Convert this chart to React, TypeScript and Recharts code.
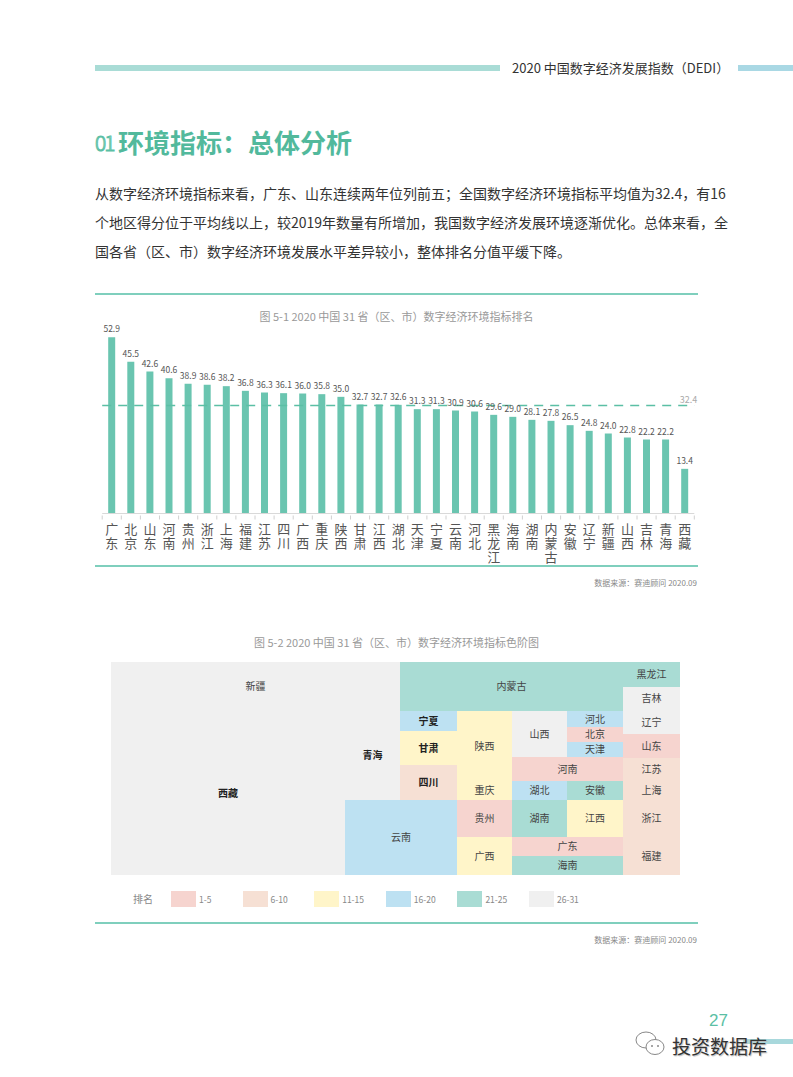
import { BarChart, Bar, XAxis, YAxis, ReferenceLine, LabelList, ComposedChart, ReferenceArea } from 'recharts'

// 各省（区、市）按 2020 数字经济环境指标排名
const provinces = ['广东', '北京', '山东', '河南', '贵州', '浙江', '上海', '福建', '江苏', '四川', '广西', '重庆', '陕西', '甘肃', '江西', '湖北', '天津', '宁夏', '云南', '河北', '黑龙江', '海南', '湖南', '内蒙古', '安徽', '辽宁', '新疆', '山西', '吉林', '青海', '西藏']
const scores = [52.9, 45.5, 42.6, 40.6, 38.9, 38.6, 38.2, 36.8, 36.3, 36.1, 36.0, 35.8, 35.0, 32.7, 32.7, 32.6, 31.3, 31.3, 30.9, 30.6, 29.6, 29.0, 28.1, 27.8, 26.5, 24.8, 24.0, 22.8, 22.2, 22.2, 13.4]
const average = 32.4

const rankLabels = ['1-5', '6-10', '11-15', '16-20', '21-25', '26-31']
const rankColors = ['#f6d4cf', '#f6e0d4', '#fff5c9', '#bde1f2', '#a9dcd4', '#f0f0f0']

// 色阶图方格布局（网格单位）：[名称, x1, x2, y1, y2]
const tiles: [string, number, number, number, number][] = [
  ['新疆', 0, 289, 0, 49],
  ['西藏', 0, 234, 49, 213],
  ['青海', 234, 289, 49, 138],
  ['内蒙古', 289, 512, 0, 49],
  ['黑龙江', 512, 569, 0, 25],
  ['吉林', 512, 569, 25, 48],
  ['辽宁', 512, 569, 48, 72],
  ['山东', 512, 569, 72, 96],
  ['江苏', 512, 569, 96, 119],
  ['上海', 512, 569, 119, 138],
  ['浙江', 512, 569, 138, 175],
  ['福建', 512, 569, 175, 213],
  ['宁夏', 289, 346, 49, 69],
  ['甘肃', 289, 346, 69, 103],
  ['四川', 289, 346, 103, 138],
  ['云南', 234, 346, 138, 213],
  ['陕西', 346, 401, 49, 119],
  ['重庆', 346, 401, 119, 138],
  ['贵州', 346, 401, 138, 175],
  ['广西', 346, 401, 175, 213],
  ['山西', 401, 456, 49, 95],
  ['河北', 456, 512, 49, 65],
  ['北京', 456, 512, 65, 80],
  ['天津', 456, 512, 80, 95],
  ['河南', 401, 512, 95, 119],
  ['湖北', 401, 456, 119, 138],
  ['安徽', 456, 512, 119, 138],
  ['湖南', 401, 456, 138, 175],
  ['江西', 456, 512, 138, 175],
  ['广东', 401, 512, 175, 194],
  ['海南', 401, 512, 194, 213],
]
const boldTiles = ['宁夏', '甘肃', '四川', '青海', '西藏']

const FONT = '"Noto Sans CJK SC", "Noto Sans", sans-serif'
const TEAL = '#6ac5b0'

const barData = provinces.map((name, i) => ({ name, value: scores[i] }))

const rankColor = (name: string) => {
  const rank = provinces.indexOf(name)
  return rankColors[Math.min(5, Math.floor(rank / 5))]
}

// 竖排省名
const VerticalTick = (props: any) => {
  const { x, y, payload, index } = props
  const half = 9.55
  return (
    <g>
      <line x1={x - half} x2={x - half} y1={y - 6} y2={y - 2} stroke="#d0d0d0" />
      {index === provinces.length - 1 && <line x1={x + half} x2={x + half} y1={y - 6} y2={y - 2} stroke="#d0d0d0" />}
      <text x={x} y={y + 1} fontSize={13} fill="#555" fontFamily={FONT} letterSpacing={1} style={{ writingMode: 'vertical-rl' }}>
        {payload.value}
      </text>
    </g>
  )
}

const abs = (left: number, top: number, extra: any = {}) => ({ position: 'absolute' as const, left, top, ...extra })

export default function App() {
  return (
    <div style={{ position: 'absolute', left: 0, top: 0, width: 793, height: 1077, background: '#fff', fontFamily: FONT, overflow: 'hidden' }}>
      {/* header */}
      <div style={abs(95, 65, { width: 405, height: 6, background: '#a9dcd6' })} />
      <div style={abs(512, 59, { fontSize: 13, color: '#333', whiteSpace: 'nowrap', lineHeight: '18px' })}>2020 中国数字经济发展指数（DEDI）</div>
      <div style={abs(738, 65, { width: 55, height: 6, background: '#a9d8e4' })} />

      {/* title */}
      <div style={abs(95, 127, { fontSize: 21, fontWeight: 300, color: '#fff', WebkitTextStroke: '1px #5bbfa5', lineHeight: '30px', letterSpacing: -2 })}>01</div>
      <div style={abs(118, 124, { fontSize: 26, fontWeight: 700, color: '#52b99c', lineHeight: '36px', whiteSpace: 'nowrap' })}>环境指标：总体分析</div>

      {/* paragraph */}
      {[
        '从数字经济环境指标来看，广东、山东连续两年位列前五；全国数字经济环境指标平均值为32.4，有16',
        '个地区得分位于平均线以上，较2019年数量有所增加，我国数字经济发展环境逐渐优化。总体来看，全',
        '国各省（区、市）数字经济环境发展水平差异较小，整体排名分值平缓下降。',
      ].map((t, i) => (
        <div key={i} style={abs(95, 183 + i * 29, { width: 602, fontSize: 14, color: '#333', lineHeight: '20px', whiteSpace: 'nowrap', textAlign: 'justify', textAlignLast: i < 2 ? 'justify' : 'left' })}>{t}</div>
      ))}

      {/* figure 5-1 */}
      <div style={abs(95, 293, { width: 603, height: 2, background: '#7fcfbd' })} />
      <div style={abs(95, 308, { width: 603, textAlign: 'center', fontSize: 11, color: '#999', lineHeight: '16px' })}>图 5-1 2020 中国 31 省（区、市）数字经济环境指标排名</div>
      <div style={abs(95, 296)}>
        <BarChart width={605} height={274} data={barData} margin={{ top: 17.5, right: 5.7, bottom: 0.5, left: 7.2 }}>
          <XAxis dataKey="name" interval={0} tickLine={false} axisLine={{ stroke: '#d9d9d9' }} tick={<VerticalTick />} height={56} />
          <YAxis hide domain={[0, 60]} />
          <ReferenceLine
            y={average}
            stroke="#5bbfa5"
            strokeWidth={1.5}
            strokeDasharray="9 7"
            label={{ value: average.toFixed(1), position: 'insideTopRight', fill: '#aaa', fontSize: 9, dy: -14, dx: 8 }}
          />
          <Bar dataKey="value" fill={TEAL} barSize={7} isAnimationActive={false}>
            <LabelList dataKey="value" position="top" offset={5} fontSize={8.5} fill="#555" formatter={(v: any) => Number(v).toFixed(1)} />
          </Bar>
        </BarChart>
      </div>
      <div style={abs(95, 565, { width: 603, height: 2, background: '#7fcfbd' })} />
      <div style={abs(95, 576, { width: 602, textAlign: 'right', fontSize: 8, color: '#888', lineHeight: '14px' })}>数据来源：赛迪顾问 2020.09</div>

      {/* figure 5-2 */}
      <div style={abs(95, 634, { width: 603, textAlign: 'center', fontSize: 11, color: '#999', lineHeight: '16px' })}>图 5-2 2020 中国 31 省（区、市）数字经济环境指标色阶图</div>
      <div style={abs(111, 662)}>
        <ComposedChart width={569} height={213} data={[]} margin={{ top: 0, right: 0, bottom: 0, left: 0 }}>
          <XAxis type="number" dataKey="x" domain={[0, 569]} hide allowDataOverflow />
          <YAxis type="number" dataKey="y" domain={[0, 213]} reversed hide allowDataOverflow />
          {tiles.map(([name, x1, x2, y1, y2]) => (
            <ReferenceArea
              key={name}
              x1={x1}
              x2={x2}
              y1={y1}
              y2={y2}
              fill={rankColor(name)}
              fillOpacity={1}
              stroke="none"
              ifOverflow="visible"
              label={{ value: name, position: 'center', fontSize: 10, fill: boldTiles.includes(name) ? '#222' : '#444', fontWeight: boldTiles.includes(name) ? 700 : 400 }}
            />
          ))}
        </ComposedChart>
      </div>

      {/* legend */}
      <div style={abs(133, 891, { fontSize: 10, color: '#888', lineHeight: '16px' })}>排名</div>
      {rankLabels.map((r, i) => (
        <div key={r}>
          <div style={abs(171 + i * 71.6, 891, { width: 25, height: 16, background: rankColors[i] })} />
          <div style={abs(199 + i * 71.6, 891, { fontSize: 8.5, color: '#888', lineHeight: '16px' })}>{r}</div>
        </div>
      ))}
      <div style={abs(95, 922, { width: 603, height: 2, background: '#7fcfbd' })} />
      <div style={abs(95, 933, { width: 602, textAlign: 'right', fontSize: 8, color: '#888', lineHeight: '14px' })}>数据来源：赛迪顾问 2020.09</div>

      {/* footer */}
      <div style={abs(743, 1039, { width: 50, height: 5, background: '#a8d8dc' })} />
      <div style={abs(709, 1012, { fontSize: 17, color: '#5bbfa5', lineHeight: '18px', fontFamily: '"Liberation Sans", Arial, sans-serif' })}>27</div>
      <svg style={abs(634, 1030)} width={34} height={28}>
        <ellipse cx={12} cy={10} rx={10} ry={8} fill="#fff" stroke="#888" strokeWidth={1} />
        <ellipse cx={21} cy={17} rx={9} ry={7.5} fill="#fff" stroke="#888" strokeWidth={1} />
        <circle cx={18} cy={16} r={1} fill="#888" />
        <circle cx={24} cy={16} r={1} fill="#888" />
      </svg>
      <div style={abs(672, 1035, { fontSize: 19, color: '#333', lineHeight: '22px', whiteSpace: 'nowrap', textShadow: '1px 1px 1px #bbb' })}>投资数据库</div>
    </div>
  )
}
